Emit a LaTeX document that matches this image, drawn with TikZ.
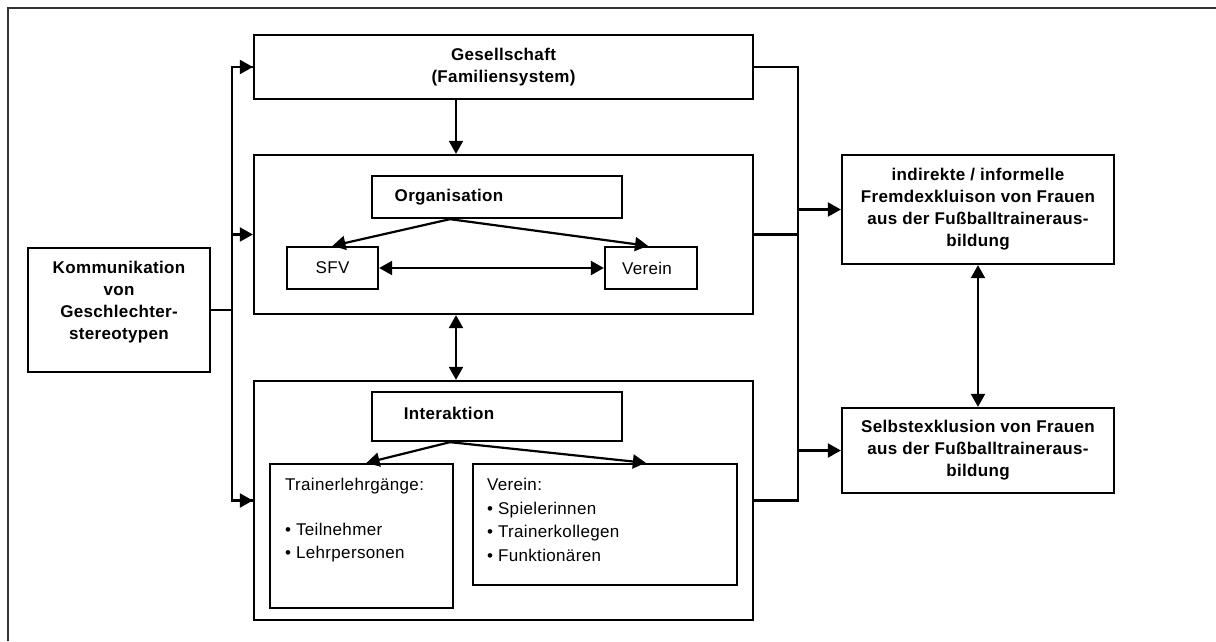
\documentclass[tikz,border=0pt]{standalone}
\usepackage{fontspec}
\setmainfont{Liberation Sans}[LetterSpace=2]
\usetikzlibrary{arrows.meta,calc}
\begin{document}
\begin{tikzpicture}[x=1pt,y=-1pt,
  box/.style={draw, line width=2.3pt, inner sep=0pt, minimum width=#1},
  ttl/.style={font=\bfseries\fontsize{17}{22}\selectfont, align=center, inner sep=0pt},
  reg/.style={font=\fontsize{17}{23.5}\selectfont, align=left, inner sep=0pt},
  con/.style={line width=2.2pt},
  arr/.style={con, -{Triangle[length=13pt,width=14pt]}},
  darr/.style={con, {Triangle[length=13pt,width=14pt]}-{Triangle[length=13pt,width=14pt]}}
]
\useasboundingbox (0,0) rectangle (1216,641);
\draw[line width=1.5pt, black!80] (8,641) -- (8,8) -- (1216,8);

% boxes
\node[box=499, minimum height=64, ttl] (ges) at (503.5,67) {Gesellschaft\\(Familiensystem)};
\node[box=499, minimum height=159] (org) at (503.5,234.5) {};
\node[box=250, minimum height=42, label={[ttl, xshift=-48pt]center:Organisation}] (orgin) at (497,197) {};
\node[box=91, minimum height=42, font=\fontsize{17}{22}\selectfont] (sfv) at (332.5,268) {SFV};
\node[box=92, minimum height=42, label={[reg, xshift=-4pt]center:Verein}] (ver) at (651,268) {};
\node[box=499, minimum height=239] (inter) at (503.5,500.5) {};
\node[box=250, minimum height=49, label={[ttl, xshift=-48pt, yshift=3.5pt]center:Interaktion}] (interin) at (497,416.5) {};
\node[box=183, minimum height=144, label={[reg, anchor=north west, xshift=16pt, yshift=-15.5pt]north west:{Trainerlehrgänge:\\[21pt]• Teilnehmer\\• Lehrpersonen}}] (tr) at (361.5,536) {};
\node[box=264, minimum height=121, label={[reg, anchor=north west, xshift=15pt, yshift=-15.5pt]north west:{Verein:\\• Spielerinnen\\• Trainerkollegen\\• Funktionären}}] (vl) at (605,524.5) {};
\node[box=182, minimum height=124, label={[ttl, yshift=8pt]center:{Kommunikation\\von\\Geschlechter-\\stereotypen}}] (kom) at (119,310) {};
\node[box=272, minimum height=109, ttl] (ind) at (978,209.5) {indirekte / informelle\\Fremdexkluison von Frauen\\aus der Fußballtraineraus-\\bildung};
\node[box=272, minimum height=85, ttl] (sel) at (978,450.5) {Selbstexklusion von Frauen\\aus der Fußballtraineraus-\\bildung};

% helper coordinates
\coordinate (bl) at (232,310);
\coordinate (rb) at (798,0);
\coordinate (cx) at (456,0);
\coordinate (ox) at (450,0);

% left bus
\draw[con] (kom.east) -- (bl);
\draw[con] (bl) |- (ges.west);
\draw[arr] ($(ges.west)+(-22,0)$) -- (ges.west);
\draw[arr] (bl) |- (org.west);
\draw[con] (bl) |- (inter.west);
\draw[arr] ($(inter.west)+(-22,0)$) -- (inter.west);

% vertical center links
\draw[arr] (ges.south -| cx) -- (org.north -| cx);
\draw[darr] (org.south -| cx) -- (inter.north -| cx);

% organisation internals
\draw[arr] (orgin.south -| ox) -- (sfv.north);
\draw[arr] (orgin.south -| ox) -- ($(ver.north)+(-3,0)$);
\draw[darr] (sfv.east) -- (ver.west);

% interaktion internals
\draw[arr] (interin.south -| ox) -- ($(tr.north)+(5,0)$);
\draw[arr] (interin.south -| ox) -- ($(vl.north west)+(174,0)$);

% right bus
\draw[con] (ges.east) -- (ges.east -| rb) -- (inter.east -| rb) -- (inter.east);
\draw[con] (org.east) -- (org.east -| rb);
\draw[arr] (ind.west -| rb) -- (ind.west);
\draw[arr] (sel.west -| rb) -- (sel.west);

% right link
\draw[darr] (ind.south) -- (sel.north);
\end{tikzpicture}
\end{document}
